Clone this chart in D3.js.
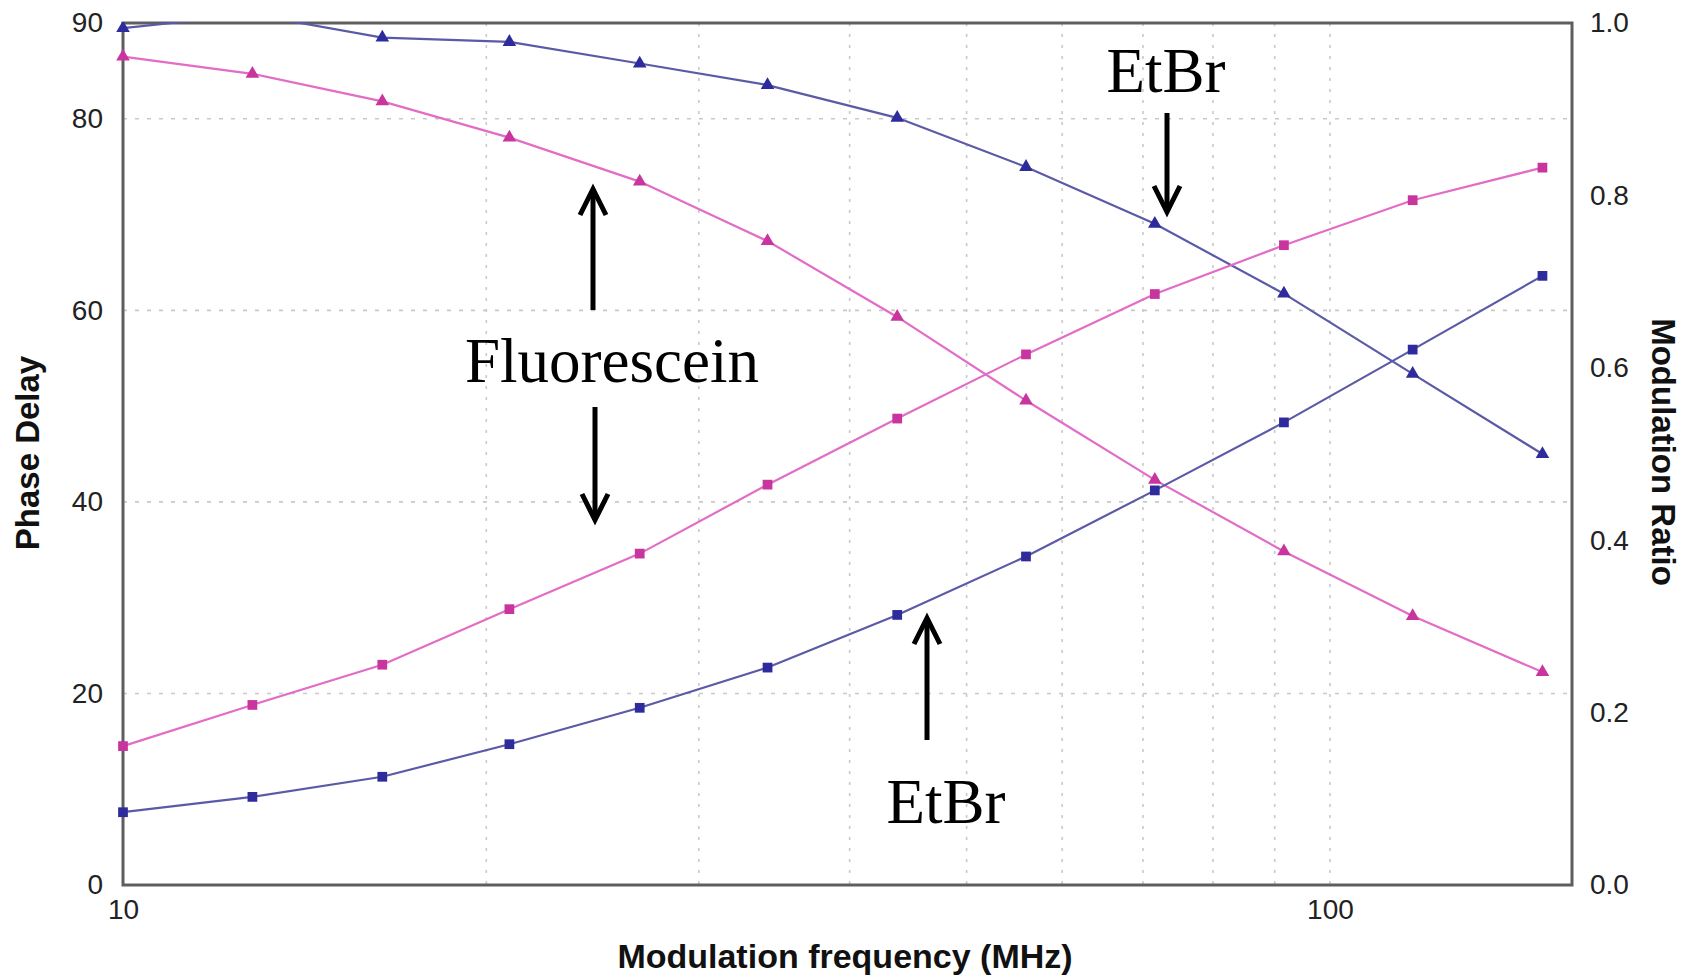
<!DOCTYPE html>
<html>
<head>
<meta charset="utf-8">
<script src="https://cdn.jsdelivr.net/npm/d3@7"></script>
<style>
  body { margin: 0; background: #fff; }
  svg { display: block; }
</style>
</head>
<body>
<div id="plot"></div>
<script>
    // Modulation frequency (MHz) of each sample
    const freqs = [10, 12.8, 16.4, 20.9, 26.8, 34.2, 43.8, 56.0, 71.6, 91.6, 117.1, 150];

    // Phase delay (degrees), squares, left axis
    const fluorPhase = [14.5, 18.8, 23.0, 28.8, 34.6, 41.8, 48.7, 55.4, 61.7, 66.8, 71.5, 74.9];
    const etbrPhase = [7.6, 9.2, 11.3, 14.7, 18.5, 22.7, 28.2, 34.3, 41.2, 48.3, 55.9, 63.6];

    // Modulation ratio, triangles, right axis
    const fluorMod = [0.961, 0.941, 0.909, 0.867, 0.816, 0.747, 0.659, 0.562, 0.470, 0.387, 0.312, 0.247];
    const etbrMod = [0.994, 1.010, 0.983, 0.978, 0.953, 0.928, 0.890, 0.833, 0.767, 0.686, 0.593, 0.500];

    // tick labels
    const xTicks = [10, 100];
    const xGrid = [20, 30, 40, 50, 60, 70, 80, 90, 100];
    const yLeftTicks = [0, 20, 40, 60, 80, 90];
    const yGrid = [20, 40, 60, 80];
    const yRightTicks = [0, 0.2, 0.4, 0.6, 0.8, 1.0];

    const svgWidth = 1681;
    const svgHeight = 978;
    const margin = { top: 23, right: 109, bottom: 93, left: 123 };
    const plotRight = svgWidth - margin.right;
    const plotBottom = svgHeight - margin.bottom;

    const blueLine = '#5b5aa6', blueMark = '#2e2c9c';
    const pinkLine = '#e26cc6', pinkMark = '#c9359f';

    const svg = d3.select('#plot')
        .append('svg')
        .attr('width', svgWidth)
        .attr('height', svgHeight);

    const xScale = d3.scaleLog()
        .domain([10, 158.7])
        .range([margin.left, plotRight]);

    const yLeft = d3.scaleLinear()
        .domain([0, 90])
        .range([plotBottom, margin.top]);

    const yRight = d3.scaleLinear()
        .domain([0, 1])
        .range([plotBottom, margin.top]);

    svg.append('clipPath').attr('id', 'clip')
        .append('rect')
        .attr('x', 0).attr('y', margin.top - 1)
        .attr('width', svgWidth).attr('height', svgHeight);

    // dashed grid
    svg.append('g').selectAll('line')
        .data(yGrid).enter().append('line')
        .attr('x1', margin.left).attr('x2', plotRight)
        .attr('y1', d => yLeft(d)).attr('y2', d => yLeft(d))
        .attr('stroke', '#c9c9c9').attr('stroke-width', 1.6)
        .attr('stroke-dasharray', '4,8');

    svg.append('g').selectAll('line')
        .data(xGrid).enter().append('line')
        .attr('x1', d => xScale(d)).attr('x2', d => xScale(d))
        .attr('y1', margin.top).attr('y2', plotBottom)
        .attr('stroke', '#c9c9c9').attr('stroke-width', 1.6)
        .attr('stroke-dasharray', '3,8');

    // plot frame
    svg.append('rect')
        .attr('x', margin.left).attr('y', margin.top)
        .attr('width', plotRight - margin.left)
        .attr('height', plotBottom - margin.top)
        .attr('fill', 'none')
        .attr('stroke', '#5e5e5e')
        .attr('stroke-width', 3);

    // axes, labels only
    function tickText(g) {
        g.select('.domain').remove();
        g.selectAll('.tick line').remove();
        g.selectAll('text')
            .style('font-family', '"Liberation Sans", Arial, sans-serif')
            .style('font-size', '28px')
            .attr('fill', '#222');
    }

    svg.append('g')
        .attr('transform', `translate(0, ${plotBottom})`)
        .call(d3.axisBottom(xScale).tickValues(xTicks).tickFormat(d3.format('d')).tickSize(0).tickPadding(14))
        .call(tickText);

    svg.append('g')
        .attr('transform', `translate(${margin.left}, 0)`)
        .call(d3.axisLeft(yLeft).tickValues(yLeftTicks).tickSize(0).tickPadding(20))
        .call(tickText);

    svg.append('g')
        .attr('transform', `translate(${plotRight}, 0)`)
        .call(d3.axisRight(yRight).tickValues(yRightTicks).tickFormat(d3.format('.1f')).tickSize(0).tickPadding(18))
        .call(tickText);

    // series
    const series = [
        { vals: etbrMod, y: yRight, line: blueLine, mark: blueMark, shape: d3.symbolTriangle },
        { vals: fluorMod, y: yRight, line: pinkLine, mark: pinkMark, shape: d3.symbolTriangle },
        { vals: fluorPhase, y: yLeft, line: pinkLine, mark: pinkMark, shape: d3.symbolSquare },
        { vals: etbrPhase, y: yLeft, line: blueLine, mark: blueMark, shape: d3.symbolSquare }
    ];

    const plotG = svg.append('g').attr('clip-path', 'url(#clip)');

    series.forEach(s => {
        const pts = freqs.map((f, i) => [f, s.vals[i]]);
        const line = d3.line()
            .x(d => xScale(d[0]))
            .y(d => s.y(d[1]));

        plotG.append('path')
            .datum(pts)
            .attr('d', line)
            .attr('fill', 'none')
            .attr('stroke', s.line)
            .attr('stroke-width', 2.2);

        plotG.selectAll(null)
            .data(pts).enter()
            .append('path')
            .attr('transform', d => `translate(${xScale(d[0])}, ${s.y(d[1])})`)
            .attr('d', d3.symbol().type(s.shape).size(s.shape === d3.symbolSquare ? 95 : 80))
            .attr('fill', s.mark);
    });

    // axis titles
    const titleFont = '"Liberation Sans", Arial, sans-serif';

    svg.append('text')
        .attr('x', 845).attr('y', 968)
        .attr('text-anchor', 'middle')
        .style('font-family', titleFont).style('font-size', '34px').style('font-weight', 'bold')
        .attr('fill', '#111')
        .text('Modulation frequency (MHz)');

    svg.append('text')
        .attr('transform', 'translate(39, 453) rotate(-90)')
        .attr('text-anchor', 'middle')
        .style('font-family', titleFont).style('font-size', '33px').style('font-weight', 'bold')
        .attr('fill', '#111')
        .text('Phase Delay');

    svg.append('text')
        .attr('transform', 'translate(1652, 452) rotate(90)')
        .attr('text-anchor', 'middle')
        .style('font-family', titleFont).style('font-size', '33px').style('font-weight', 'bold')
        .attr('fill', '#111')
        .text('Modulation Ratio');

    // annotations
    const serif = '"Liberation Serif", "Times New Roman", serif';

    function arrow(x, from, tip) {
        const dir = tip > from ? 1 : -1;
        svg.append('line')
            .attr('x1', x).attr('x2', x)
            .attr('y1', from).attr('y2', tip - dir * 3)
            .attr('stroke', '#000').attr('stroke-width', 5);
        svg.append('path')
            .attr('d', `M${x - 13},${tip - dir * 26} L${x},${tip} L${x + 13},${tip - dir * 26}`)
            .attr('fill', 'none')
            .attr('stroke', '#000').attr('stroke-width', 5)
            .attr('stroke-linejoin', 'miter');
    }

    function label(txt, x, y) {
        svg.append('text')
            .attr('x', x).attr('y', y)
            .attr('text-anchor', 'middle')
            .style('font-family', serif).style('font-size', '63px')
            .attr('fill', '#000')
            .text(txt);
    }

    label('EtBr', 1166, 92);
    arrow(1167, 113, 212);

    label('Fluorescein', 612, 382);
    arrow(593, 310, 189);
    arrow(595, 407, 520);

    arrow(927, 740, 618);
    label('EtBr', 946, 823);
</script>
</body>
</html>
